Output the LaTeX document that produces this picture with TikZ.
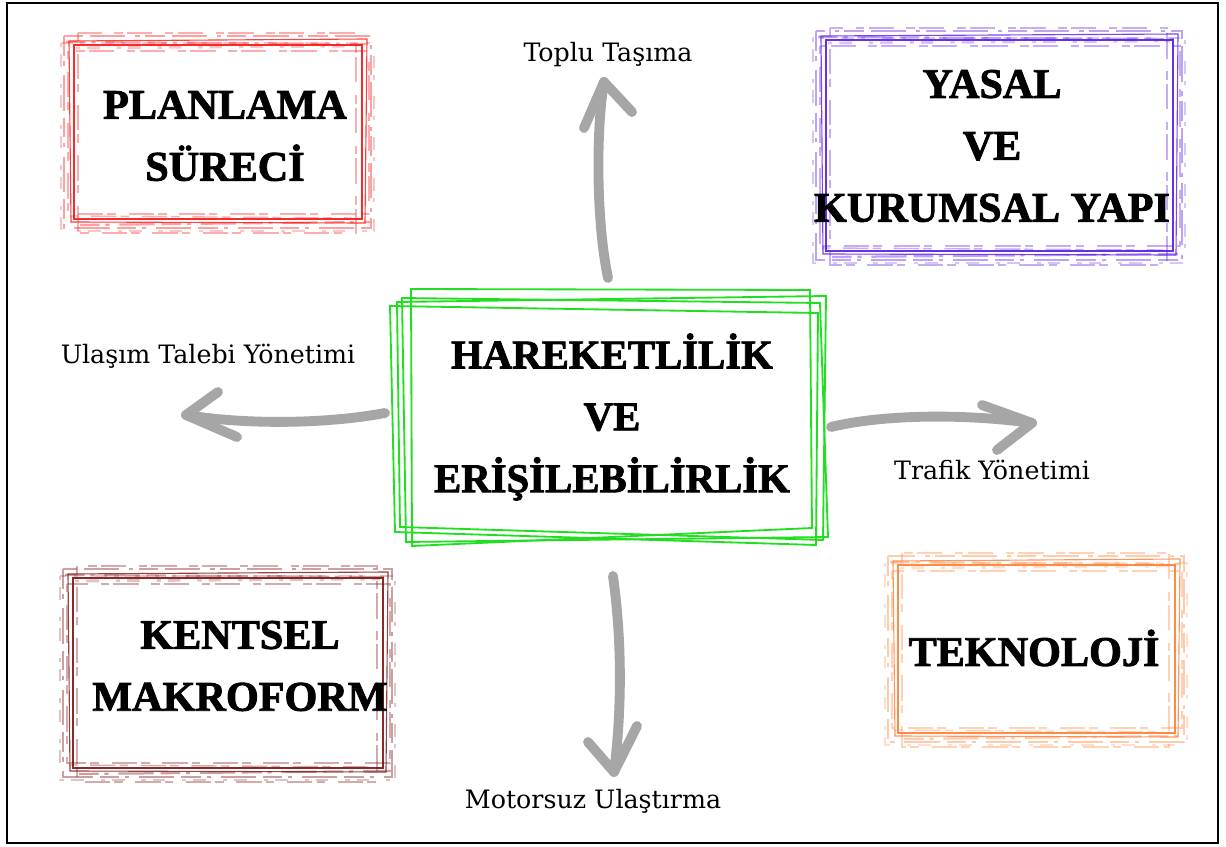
\documentclass[tikz,border=0pt]{standalone}
\usepackage{fontspec}
\usepackage{tikz}
\setmainfont{Liberation Serif}
\newfontfamily\headfont{Liberation Serif}[BoldFeatures={FakeBold=2}]
\newfontfamily\labelfont{DejaVu Serif}

\definecolor{framered}{RGB}{245,20,20}
\definecolor{framepurple}{RGB}{88,24,228}
\definecolor{framemaroon}{RGB}{125,18,18}
\definecolor{frameorange}{RGB}{255,125,50}
\definecolor{framegreen}{RGB}{32,222,32}
\definecolor{arrowgray}{RGB}{166,166,166}

\tikzset{
  headtext/.style={align=center, font=\headfont\bfseries\fontsize{30}{44}\selectfont},
  labeltext/.style={font=\labelfont\fontsize{18}{22}\selectfont},
  handarrow/.style={line width=7pt, color=arrowgray, line cap=round, line join=round},
  roughA/.style={line width=1.6pt, opacity=.4, dash pattern=on 14pt off 4pt on 3pt off 7pt on 25pt off 5pt},
  roughB/.style={line width=1pt, opacity=.35, dash pattern=on 6pt off 9pt on 18pt off 3pt},
  roughC/.style={line width=2pt, opacity=.25, dash pattern=on 3pt off 5pt on 9pt off 12pt},
  sketch/.style={framegreen, line width=1.3pt}
}

% grunge frame: colour, inner corners x1,y1,x2,y2
\newcommand{\grungeframe}[5]{%
  \draw[#1, line width=1.5pt, opacity=.9] (#2,#3) rectangle (#4,#5);
  \draw[#1, line width=.8pt, opacity=.8] (#2-5,#3-4) -- (#4+5,#3-6) -- (#4+3,#5+4) -- (#2-3,#5+3) -- cycle;
  \draw[#1, roughA] (#2-10,#3-9) rectangle (#4+9,#5+9);
  \draw[#1, roughB] (#2-6,#3+6) rectangle (#4+7,#5-5);
  \draw[#1, roughC] (#2-13,#3-2) rectangle (#4+12,#5+12);
  \draw[#1, roughB] (#2+4,#3-12) rectangle (#4-6,#5+14);
  % extra streaks in the top and bottom bands
  \draw[#1, roughA] (#2-8,#3-3) -- (#4+4,#3-1);
  \draw[#1, roughC] (#2+2,#3+3) -- (#4-3,#3+1);
  \draw[#1, roughA] (#2+6,#5+6) -- (#4+8,#5+3);
  \draw[#1, roughB] (#2-4,#5-3) -- (#4-10,#5-1);
}

\begin{document}
\begin{tikzpicture}[x=0.025cm, y=-0.025cm]
	\useasboundingbox (0,0) rectangle (1226,847);
	\draw[line width=1.8pt] (7,3) rectangle (1218,843);
	% Corner frames
	\grungeframe{framered}{74}{45}{362}{219}
	\grungeframe{framepurple}{826}{40}{1173}{251}
	\grungeframe{framemaroon}{73}{578}{383}{768}
	\grungeframe{frameorange}{898}{565}{1175}{733}
	\node[headtext] (plan) at (225,136) {PLANLAMA\\SÜRECİ};
	\node[headtext] (yasal) at (992,146) {YASAL\\VE\\KURUMSAL YAPI};
	\node[headtext] (kentsel) at (240,666) {KENTSEL\\MAKROFORM};
	\node[headtext] (tekno) at (1034,648) {TEKNOLOJİ};
	% Central box, drawn by hand
	\draw[sketch] (411,289) -- (810,290) -- (812,528) -- (412,546) -- cycle;
	\draw[sketch] (397,302) -- (826,296) -- (823,540) -- (400,527) -- cycle;
	\draw[sketch] (390,306) -- (818,313) -- (816,545) -- (395,532) -- cycle;
	\draw[sketch] (402,298) -- (820,303) -- (828,537) -- (406,542) -- cycle;
	\node[headtext, font=\headfont\bfseries\fontsize{29}{44}\selectfont] (mob) at (612,417) {HAREKETLİLİK\\VE\\ERİŞİLEBİLİRLİK};
	% Labels
	\node[labeltext] (tasima) at (608,55) {Toplu Taşıma};
	\node[labeltext] (talep) at (208,356) {Ulaşım Talebi Yönetimi};
	\node[labeltext] (trafik) at (992,470) {Trafik Yönetimi};
	\node[labeltext] (motorsuz) at (593,801) {Motorsuz Ulaştırma};
	% Arrow ends
	\coordinate (upstart) at (608,278);
	\coordinate (uptip) at (604,82);
	\coordinate (upleft) at (584,128);
	\coordinate (upright) at (632,112);
	\coordinate (leftstart) at (385,413);
	\coordinate (lefttip) at (186,415);
	\coordinate (leftup) at (218,392);
	\coordinate (leftdown) at (237,437);
	\coordinate (rightstart) at (831,427);
	\coordinate (righttip) at (1032,423);
	\coordinate (rightup) at (982,405);
	\coordinate (rightdown) at (997,450);
	\coordinate (downstart) at (613,576);
	\coordinate (downtip) at (614,772);
	\coordinate (downleft) at (588,742);
	\coordinate (downright) at (637,726);
	% Draw the hand-drawn arrows
	\draw[handarrow] (upstart) .. controls (596,220) and (596,130) .. (uptip);
	\draw[handarrow] (upleft) -- (uptip) -- (upright);
	\draw[handarrow] (leftstart) .. controls (320,425) and (240,424) .. (lefttip);
	\draw[handarrow] (leftup) -- (lefttip) -- (leftdown);
	\draw[handarrow] (rightstart) .. controls (880,415) and (960,413) .. (righttip);
	\draw[handarrow] (rightup) -- (righttip) -- (rightdown);
	\draw[handarrow] (downstart) .. controls (622,640) and (622,710) .. (downtip);
	\draw[handarrow] (downleft) -- (downtip) -- (downright);
\end{tikzpicture}
\end{document}
